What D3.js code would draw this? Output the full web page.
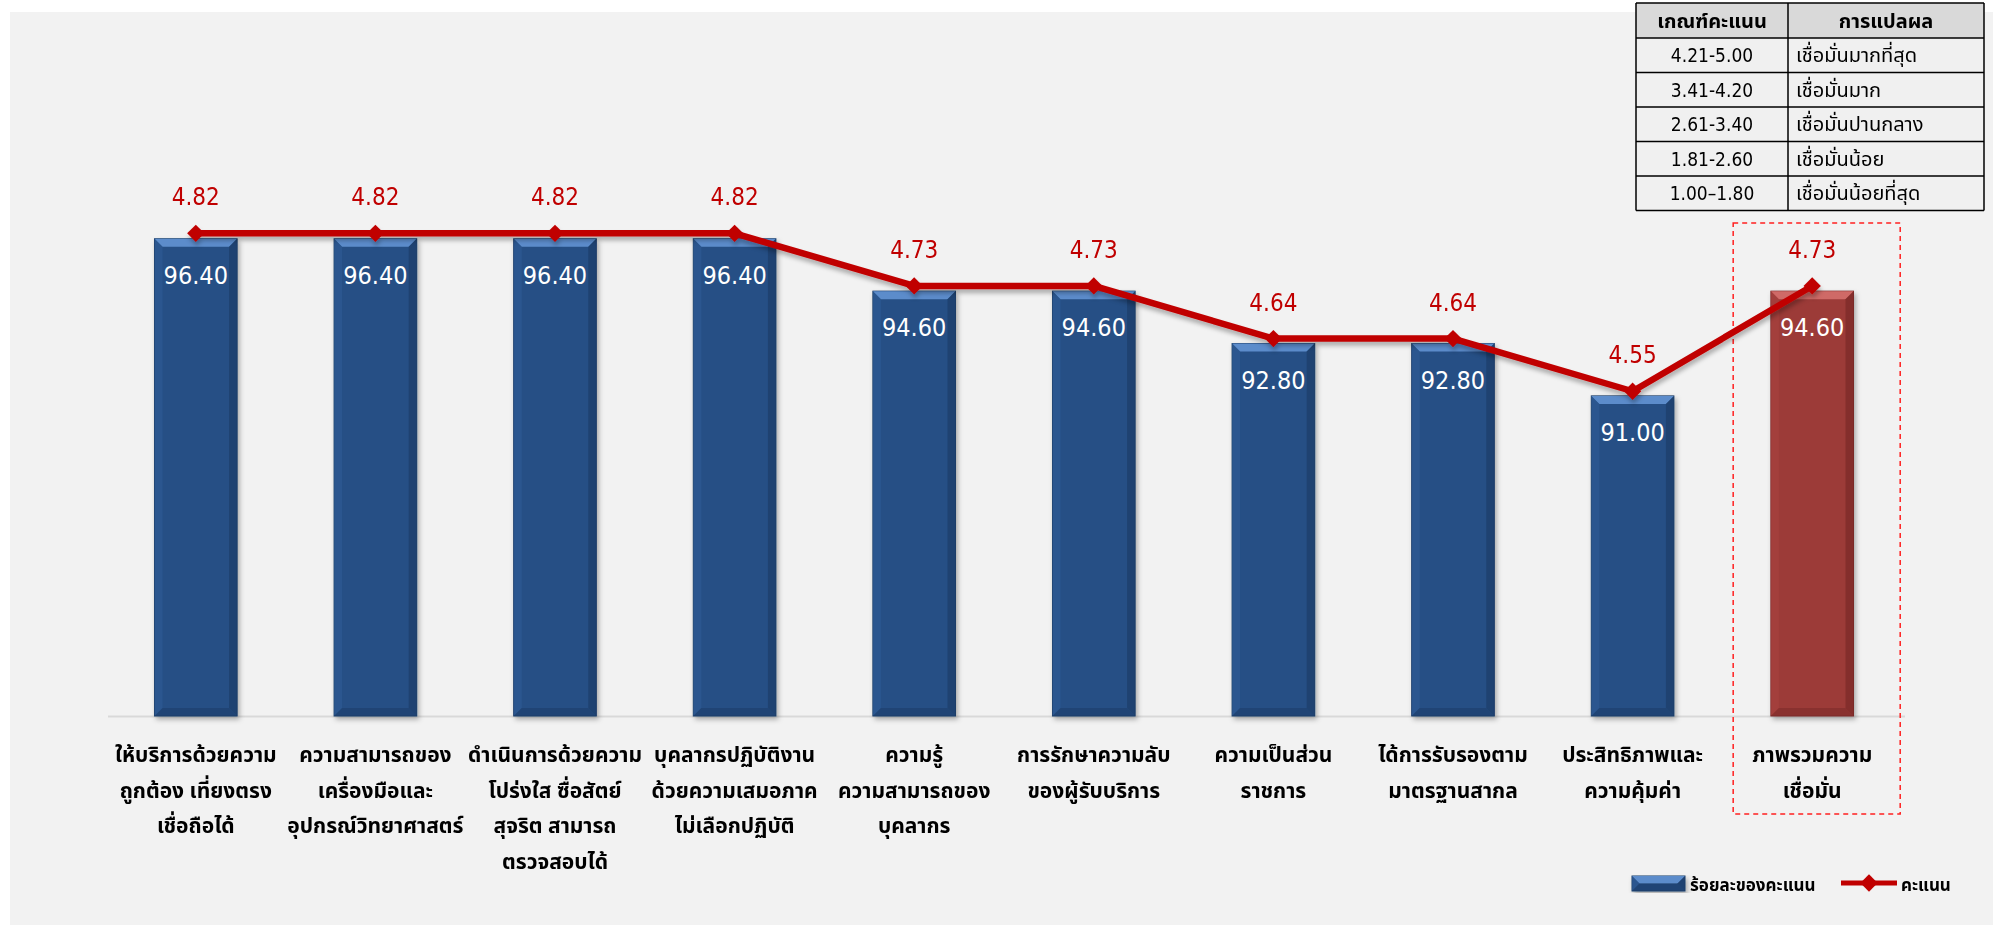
<!DOCTYPE html>
<html>
<head>
<meta charset="utf-8">
<script src="https://cdn.jsdelivr.net/npm/d3@7"></script>
<style>
  body { margin: 0; background: #ffffff; }
  #chart-area svg { display: block; }
  .num { font-family: Tahoma, "DejaVu Sans Condensed", "DejaVu Sans", sans-serif; }
  .thai { font-family: Tahoma, "Noto Sans Thai", "Noto Sans", sans-serif; }
</style>
</head>
<body>
<div id="chart-area"></div>
<script>
// data
var categories = [
    ["ให้บริการด้วยความ", "ถูกต้อง เที่ยงตรง", "เชื่อถือได้"],
    ["ความสามารถของ", "เครื่องมือและ", "อุปกรณ์วิทยาศาสตร์"],
    ["ดำเนินการด้วยความ", "โปร่งใส ซื่อสัตย์", "สุจริต สามารถ", "ตรวจสอบได้"],
    ["บุคลากรปฏิบัติงาน", "ด้วยความเสมอภาค", "ไม่เลือกปฏิบัติ"],
    ["ความรู้", "ความสามารถของ", "บุคลากร"],
    ["การรักษาความลับ", "ของผู้รับบริการ"],
    ["ความเป็นส่วน", "ราชการ"],
    ["ได้การรับรองตาม", "มาตรฐานสากล"],
    ["ประสิทธิภาพและ", "ความคุ้มค่า"],
    ["ภาพรวมความ", "เชื่อมั่น"]
];
var percentValues = [96.40, 96.40, 96.40, 96.40, 94.60, 94.60, 92.80, 92.80, 91.00, 94.60];
var scoreValues = [4.82, 4.82, 4.82, 4.82, 4.73, 4.73, 4.64, 4.64, 4.55, 4.73];
var seriesNames = ["ร้อยละของคะแนน", "คะแนน"];
var tableHeader = ["เกณฑ์คะแนน", "การแปลผล"];
var scoreRanges = ["4.21-5.00", "3.41-4.20", "2.61-3.40", "1.81-2.60", "1.00–1.80"];
var interpretations = ["เชื่อมั่นมากที่สุด", "เชื่อมั่นมาก", "เชื่อมั่นปานกลาง", "เชื่อมั่นน้อย", "เชื่อมั่นน้อยที่สุด"];

var W = 1993, H = 925;
var margin = { left: 106, right: 91, top: 134, bottom: 209 };
var width = W - margin.left - margin.right,
    height = H - margin.top - margin.bottom;

var svg = d3.select("#chart-area")
    .append("svg")
        .attr("width", W)
        .attr("height", H);

var defs = svg.append("defs");

var barShadow = defs.append("filter").attr("id", "barShadow")
    .attr("x", "-20%").attr("y", "-5%").attr("width", "140%").attr("height", "115%");
barShadow.append("feDropShadow")
    .attr("dx", 2).attr("dy", 3).attr("stdDeviation", 2.5)
    .attr("flood-color", "#000").attr("flood-opacity", 0.3);

var lineShadow = defs.append("filter").attr("id", "lineShadow")
    .attr("x", "-5%").attr("y", "-20%").attr("width", "110%").attr("height", "140%");
lineShadow.append("feDropShadow")
    .attr("dx", 1).attr("dy", 4).attr("stdDeviation", 2)
    .attr("flood-color", "#000").attr("flood-opacity", 0.28);

// background panel
svg.append("rect")
    .attr("x", 10).attr("y", 12)
    .attr("width", W - 10).attr("height", H - 12)
    .attr("fill", "#f2f2f2");

var g = svg.append("g")
    .attr("transform", "translate(" + margin.left + ", " + margin.top + ")");

var xScale = d3.scaleBand()
    .domain(d3.range(categories.length))
    .range([0, width])
    .paddingInner(0.54)
    .paddingOuter(0.27);

var yScale = d3.scaleLinear()
    .domain([80, 100])
    .range([height, 0]);

var y2Scale = d3.scaleLinear()
    .domain([4, 5])
    .range([height - 3, -6]);

var bw = xScale.bandwidth();
var last = categories.length - 1;

// baseline
g.append("line")
    .attr("x1", 2).attr("x2", width + 3)
    .attr("y1", height + 0.5).attr("y2", height + 0.5)
    .attr("stroke", "#d9d9d9")
    .attr("stroke-width", 2);

// dashed box round the overall category
var boxX = xScale(last) - xScale.step() * 0.21;
g.append("rect")
    .attr("x", boxX)
    .attr("y", 223 - margin.top)
    .attr("width", xScale.step() * 0.93)
    .attr("height", 814 - 223)
    .attr("fill", "none")
    .attr("stroke", "#ff2020")
    .attr("stroke-width", 1.5)
    .attr("stroke-dasharray", "5,4");

var palettes = {
    blue: { main: "#264f85", top: "#5c8ccb", side: "#1c3d68", left: "#2f5c96" },
    red:  { main: "#9c3a38", top: "#cf6a67", side: "#7a2a28", left: "#a8433f" }
};

function drawBevelBar(sel, x, y, w, h, pal) {
    var b = 8;
    sel.append("rect")
        .attr("x", x).attr("y", y).attr("width", w).attr("height", h)
        .attr("fill", pal.main)
        .attr("stroke", pal.side).attr("stroke-width", 1)
        .attr("filter", "url(#barShadow)");
    // top bevel
    sel.append("path")
        .attr("d", "M" + x + "," + y + "L" + (x + w) + "," + y + "L" + (x + w - b) + "," + (y + b) +
            "L" + (x + b) + "," + (y + b) + "Z")
        .attr("fill", pal.top);
    // left bevel
    sel.append("path")
        .attr("d", "M" + x + "," + y + "L" + (x + b) + "," + (y + b) + "L" + (x + b) + "," + (y + h - b) +
            "L" + x + "," + (y + h) + "Z")
        .attr("fill", pal.left).attr("opacity", 0.6);
    // right bevel
    sel.append("path")
        .attr("d", "M" + (x + w) + "," + y + "L" + (x + w - b) + "," + (y + b) + "L" + (x + w - b) + "," + (y + h - b) +
            "L" + (x + w) + "," + (y + h) + "Z")
        .attr("fill", pal.side).attr("opacity", 0.7);
    // bottom bevel
    sel.append("path")
        .attr("d", "M" + x + "," + (y + h) + "L" + (x + b) + "," + (y + h - b) + "L" + (x + w - b) + "," + (y + h - b) +
            "L" + (x + w) + "," + (y + h) + "Z")
        .attr("fill", pal.side).attr("opacity", 0.55);
}

var bars = g.append("g").attr("class", "bars");
percentValues.forEach(function(v, i) {
    var pal = i === last ? palettes.red : palettes.blue;
    drawBevelBar(bars.append("g"), xScale(i), yScale(v), bw, height - yScale(v), pal);
});

// bar value labels
g.selectAll(".bar-label")
    .data(percentValues)
    .enter()
    .append("text")
        .attr("class", "bar-label num")
        .attr("x", function(d, i) { return xScale(i) + bw / 2; })
        .attr("y", function(d) { return yScale(d) + 45; })
        .attr("text-anchor", "middle")
        .attr("font-size", "25px")
        .attr("fill", "#ffffff")
        .text(function(d) { return d3.format(".2f")(d); });

// score line
var line = d3.line()
    .x(function(d, i) { return xScale(i) + bw / 2; })
    .y(function(d) { return y2Scale(d); });

var lineG = g.append("g").attr("filter", "url(#lineShadow)");
lineG.append("path")
    .datum(scoreValues)
    .attr("d", line)
    .attr("fill", "none")
    .attr("stroke", "#c00000")
    .attr("stroke-width", 6.5)
    .attr("stroke-linejoin", "round");

lineG.selectAll(".dot")
    .data(scoreValues)
    .enter()
    .append("path")
        .attr("class", "dot")
        .attr("d", d3.symbol().type(d3.symbolSquare).size(150))
        .attr("transform", function(d, i) {
            return "translate(" + (xScale(i) + bw / 2) + "," + y2Scale(d) + ") rotate(45)";
        })
        .attr("fill", "#c00000");

g.selectAll(".score-label")
    .data(scoreValues)
    .enter()
    .append("text")
        .attr("class", "score-label num")
        .attr("x", function(d, i) { return xScale(i) + bw / 2; })
        .attr("y", function(d) { return y2Scale(d) - 28; })
        .attr("text-anchor", "middle")
        .attr("font-size", "24px")
        .attr("fill", "#c00000")
        .text(function(d) { return d3.format(".2f")(d); });

// category labels
var catLabels = g.selectAll(".cat-label")
    .data(categories)
    .enter()
    .append("text")
        .attr("class", "cat-label thai")
        .attr("x", function(d, i) { return xScale(i) + bw / 2; })
        .attr("y", height + 46)
        .attr("text-anchor", "middle")
        .attr("font-size", "21px")
        .attr("font-weight", "bold")
        .attr("fill", "#000");
catLabels.selectAll("tspan")
    .data(function(d) { return d; })
    .enter()
    .append("tspan")
        .attr("x", function() { return d3.select(this.parentNode).attr("x"); })
        .attr("dy", function(d, j) { return j === 0 ? 0 : 35.5; })
        .text(function(d) { return d; });

// legend
var legend = svg.append("g").attr("class", "legend");
drawBevelBar(legend.append("g"), 1632, 876, 53, 15, palettes.blue);
legend.append("text")
    .attr("class", "thai")
    .attr("x", 1690).attr("y", 891)
    .attr("font-size", "17px").attr("font-weight", "bold")
    .text(seriesNames[0]);
legend.append("line")
    .attr("x1", 1841).attr("x2", 1897)
    .attr("y1", 883).attr("y2", 883)
    .attr("stroke", "#c00000").attr("stroke-width", 5);
legend.append("path")
    .attr("d", d3.symbol().type(d3.symbolSquare).size(150))
    .attr("transform", "translate(1869,883) rotate(45)")
    .attr("fill", "#c00000");
legend.append("text")
    .attr("class", "thai")
    .attr("x", 1901).attr("y", 891)
    .attr("font-size", "17px").attr("font-weight", "bold")
    .text(seriesNames[1]);

// criteria table
var tX = 1636, tY = 3, col1 = 152, col2 = 196, headH = 35, rowH = 34.5;
var table = svg.append("g").attr("class", "criteria");
table.append("rect")
    .attr("x", tX).attr("y", tY).attr("width", col1 + col2).attr("height", headH)
    .attr("fill", "#d9d9d9");
table.append("rect")
    .attr("x", tX).attr("y", tY + headH).attr("width", col1 + col2).attr("height", rowH * scoreRanges.length)
    .attr("fill", "#f0f0f0");
table.selectAll(".hline")
    .data(d3.range(scoreRanges.length + 2))
    .enter()
    .append("line")
        .attr("x1", tX).attr("x2", tX + col1 + col2)
        .attr("y1", function(d) { return d === 0 ? tY : tY + headH + (d - 1) * rowH; })
        .attr("y2", function(d) { return d === 0 ? tY : tY + headH + (d - 1) * rowH; })
        .attr("stroke", "#000").attr("stroke-width", 1.5);
[tX, tX + col1, tX + col1 + col2].forEach(function(x) {
    table.append("line")
        .attr("x1", x).attr("x2", x)
        .attr("y1", tY).attr("y2", tY + headH + rowH * scoreRanges.length)
        .attr("stroke", "#000").attr("stroke-width", 1.5);
});
table.selectAll(".head")
    .data(tableHeader)
    .enter()
    .append("text")
        .attr("class", "thai")
        .attr("x", function(d, i) { return i === 0 ? tX + col1 / 2 : tX + col1 + col2 / 2; })
        .attr("y", tY + headH / 2 + 7)
        .attr("text-anchor", "middle")
        .attr("font-size", "20px").attr("font-weight", "bold")
        .text(function(d) { return d; });
table.selectAll(".range")
    .data(scoreRanges)
    .enter()
    .append("text")
        .attr("class", "num")
        .attr("x", tX + col1 / 2)
        .attr("y", function(d, i) { return tY + headH + i * rowH + rowH / 2 + 7; })
        .attr("text-anchor", "middle")
        .attr("font-size", "19px")
        .text(function(d) { return d; });
table.selectAll(".interp")
    .data(interpretations)
    .enter()
    .append("text")
        .attr("class", "thai")
        .attr("x", tX + col1 + 8)
        .attr("y", function(d, i) { return tY + headH + i * rowH + rowH / 2 + 7; })
        .attr("font-size", "20px")
        .text(function(d) { return d; });
</script>
</body>
</html>
